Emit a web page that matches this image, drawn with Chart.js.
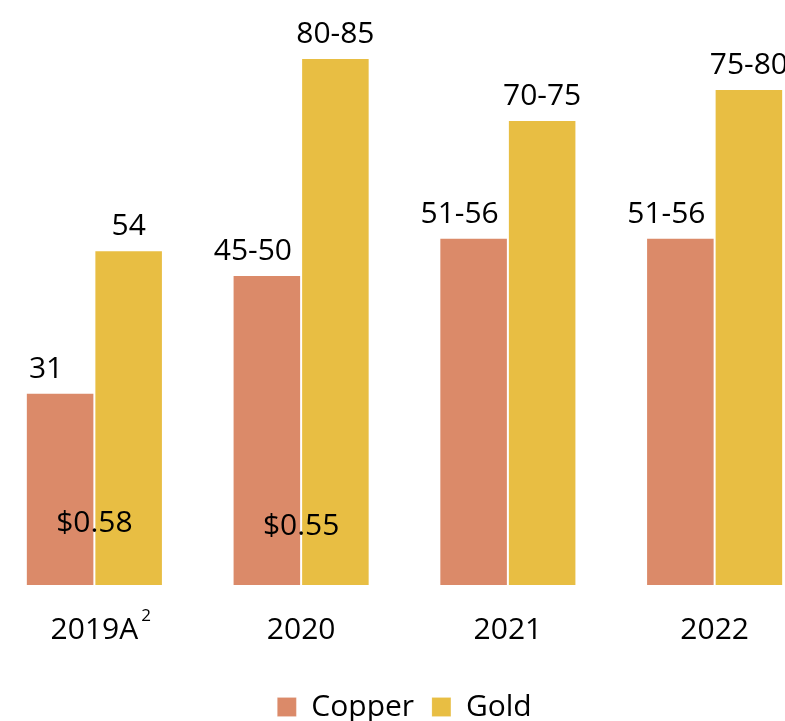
<!DOCTYPE html>
<html>
<head>
<meta charset="utf-8">
<script src="https://cdn.jsdelivr.net/npm/chart.js@4"></script>
<style>
    html, body { margin: 0; padding: 0; background: #fff; overflow: hidden; }
    body { width: 785px; height: 721px; position: relative; }
    .wrap { position: absolute; left: -9px; top: 0; width: 827px; height: 735px; }
</style>
</head>
<body>
<div class="wrap"><canvas id="myChart"></canvas></div>
<script>
// data
const years = ["2019A", "2020", "2021", "2022"]
const copperValues = [31, 50, 56, 56]
const goldValues = [54, 85, 75, 80]
const copperLabels = ["31", "45-50", "51-56", "51-56"]
const goldLabels = ["54", "80-85", "70-75", "75-80"]
const priceNotes = ["$0.58", "$0.55", "", ""]

const FONT = '"Open Sans", "Noto Sans", sans-serif'

// range labels over the bars, price notes inside the groups, superscript on 2019A
const labelPlugin = {
    id: "labelPlugin",
    afterDatasetsDraw(chart) {
        let ctx = chart.ctx
        let area = chart.chartArea
        ctx.save()
        ctx.font = "30px " + FONT
        ctx.fillStyle = "#000"
        ctx.textAlign = "center"
        ctx.textBaseline = "alphabetic"

        let texts = [copperLabels, goldLabels]
        let shift = [-14, 0]
        texts.forEach((list, i) => {
            chart.getDatasetMeta(i).data.forEach((bar, j) => {
                ctx.fillText(list[j], bar.x + shift[i], bar.y - 15)
            })
        })

        let xs = chart.scales.x
        priceNotes.forEach((note, j) => {
            if (!note) return
            ctx.fillText(note, xs.getPixelForTick(j), area.bottom - 53 + j * 3)
        })

        // superscript after the first tick label
        let w = ctx.measureText(years[0]).width
        ctx.font = "17px " + FONT
        ctx.textAlign = "left"
        ctx.fillText("2", xs.getPixelForTick(0) + w / 2 + 3, area.bottom + 36)
        ctx.restore()
    }
}

document.addEventListener("DOMContentLoaded", function () {
    let myChart = document.getElementById("myChart").getContext("2d")

    new Chart(myChart, {
        type: "bar",
        data: {
            labels: years,
            datasets: [{
                label: "Copper ",
                data: copperValues,
                backgroundColor: "#DB8A69",
                borderColor: "rgba(255,255,255,0.15)",
                borderWidth: 1
            }, {
                label: "Gold",
                data: goldValues,
                backgroundColor: "#E8BE43",
                borderColor: "rgba(255,255,255,0.15)",
                borderWidth: 1
            }]
        },
        options: {
            responsive: true,
            maintainAspectRatio: false,
            animation: false,
            datasets: {
                bar: {
                    barPercentage: 1,
                    categoryPercentage: 0.663
                }
            },
            layout: {
                padding: { top: 27, left: 0, right: 0, bottom: 3 }
            },
            scales: {
                x: {
                    grid: { display: false, drawTicks: false },
                    border: { display: false },
                    ticks: {
                        color: "#000",
                        padding: 27,
                        font: { family: FONT, size: 30 }
                    },
                    afterFit: (scale) => { scale.height = 97 }
                },
                y: {
                    display: false,
                    min: 0,
                    max: 90
                }
            },
            plugins: {
                tooltip: { enabled: false },
                legend: {
                    position: "bottom",
                    labels: {
                        color: "#000",
                        boxWidth: 19,
                        boxHeight: 19,
                        padding: 10,
                        font: { family: FONT, size: 30 }
                    }
                }
            }
        },
        plugins: [labelPlugin]
    })
})
</script>
</body>
</html>
